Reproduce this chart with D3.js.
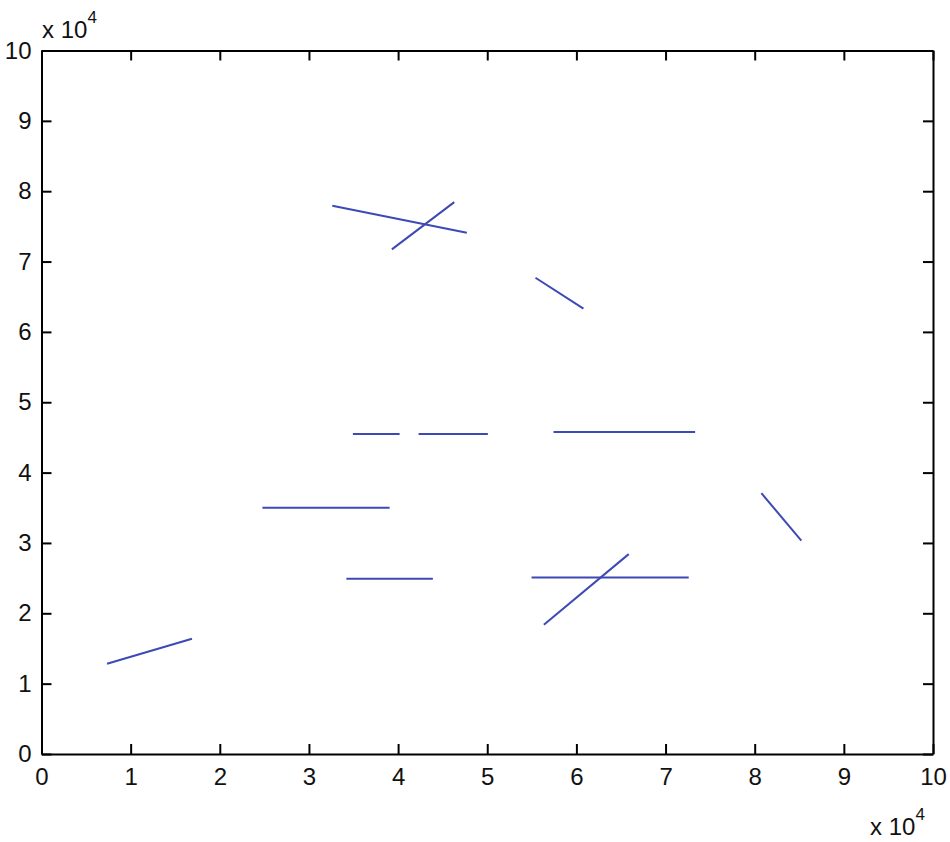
<!DOCTYPE html>
<html>
<head>
<meta charset="utf-8">
<script src="https://cdn.jsdelivr.net/npm/d3@7"></script>
<style>
  body { margin: 0; background: #fff; }
  svg { display: block; font-family: "Liberation Sans", Arial, sans-serif; }
</style>
</head>
<body>
<svg id="chart"></svg>
<script>
// segment end points (raw units, axes shown as x 10^4)
const segX0 = [7350, 24780, 34200, 54970, 56350, 34930, 42300, 57430, 80750, 32620, 39300, 55410];
const segY0 = [12830, 34990, 24900, 25090, 18370, 45500, 45500, 45780, 37070, 77930, 71730, 67700];
const segX1 = [16880, 39050, 43900, 72600, 65870, 40170, 50070, 73320, 85230, 47710, 46300, 60790];
const segY1 = [16380, 34990, 24900, 25090, 28410, 45500, 45500, 45780, 30340, 74090, 78450, 63300];
const tickVals = [0, 10000, 20000, 30000, 40000, 50000, 60000, 70000, 80000, 90000, 100000];

const width = 950, height = 842;
const margin = { top: 50.5, right: 17, bottom: 88, left: 41.5 };

const svg = d3.select('#chart')
    .attr('width', width)
    .attr('height', height);

const x = d3.scaleLinear().domain([0, 100000]).range([margin.left, width - margin.right]);
const y = d3.scaleLinear().domain([0, 100000]).range([height - margin.bottom, margin.top]);

const fmt = d => d / 10000;

// lines
const segs = segX0.map((v, i) => ({ x0: v, y0: segY0[i], x1: segX1[i], y1: segY1[i] }));
svg.append('g')
    .selectAll('line')
    .data(segs)
    .enter()
    .append('line')
    .attr('x1', d => x(d.x0))
    .attr('y1', d => y(d.y0))
    .attr('x2', d => x(d.x1))
    .attr('y2', d => y(d.y1))
    .attr('stroke', '#3d49b4')
    .attr('stroke-width', 2);

// axes (ticks point inward, box on)
const styleAxis = g => {
    g.select('.domain').attr('stroke', '#000').attr('stroke-width', 2);
    g.selectAll('.tick line').attr('stroke', '#000').attr('stroke-width', 2);
    g.selectAll('.tick text').attr('fill', '#111').attr('font-size', 24);
};

svg.append('g')
    .attr('transform', `translate(0,${y(0)})`)
    .call(d3.axisBottom(x).tickValues(tickVals).tickFormat(fmt).tickSizeInner(-10).tickSizeOuter(0).tickPadding(14))
    .call(styleAxis);

svg.append('g')
    .attr('transform', `translate(0,${y(100000)})`)
    .call(d3.axisTop(x).tickValues(tickVals).tickFormat('').tickSizeInner(-10).tickSizeOuter(0))
    .call(styleAxis);

svg.append('g')
    .attr('transform', `translate(${x(0)},0)`)
    .call(d3.axisLeft(y).tickValues(tickVals).tickFormat(fmt).tickSizeInner(-10).tickSizeOuter(0).tickPadding(10))
    .call(styleAxis);

svg.append('g')
    .attr('transform', `translate(${x(100000)},0)`)
    .call(d3.axisRight(y).tickValues(tickVals).tickFormat('').tickSizeInner(-10).tickSizeOuter(0))
    .call(styleAxis);

// exponent labels
const expo = (tx, ty) => {
    const t = svg.append('text')
        .attr('x', tx)
        .attr('y', ty)
        .attr('fill', '#111')
        .attr('font-size', 24);
    t.append('tspan').text('x 10');
    t.append('tspan').attr('dy', -15).attr('font-size', 17).text('4');
};
expo(42, 38);
expo(870, 835);
</script>
</body>
</html>
